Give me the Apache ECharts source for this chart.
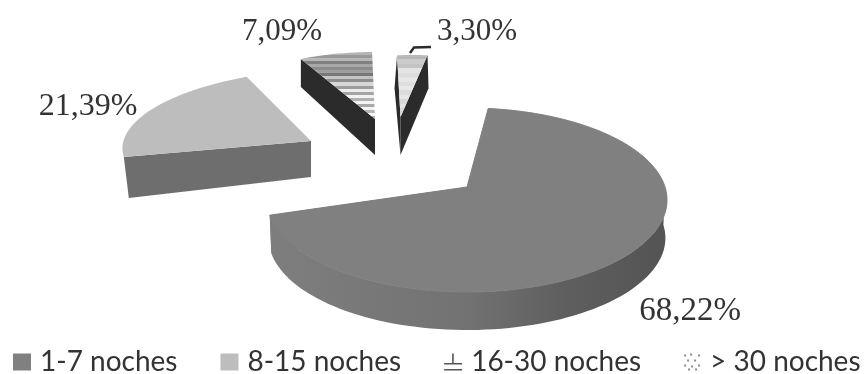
<!DOCTYPE html>
<html>
<head>
<meta charset="utf-8">
<style>html,body{margin:0;padding:0;background:#fff}#main{width:864px;height:374px}</style>
<script src="https://cdn.jsdelivr.net/npm/echarts@6/dist/echarts.min.js"></script>
</head>
<body>
<div id="main"></div>
<script>
// Length of stay, share of stays per class
const categories = ['1-7 noches', '8-15 noches', '16-30 noches', '> 30 noches'];
const shares = [68.22, 21.39, 7.09, 3.30];

// Angle where the first slice begins, clockwise from the back of the disc
const START_ANGLE = 8;

// Horizontal bands of the striped slices, top to bottom
const stripeBands = ['#b4b4b4','#9a9a9a','#b8b8b8','#808080','#a8a8a8','#8c8c8c','#a0a0a0','#787878','#c4c4c4','#8e8e8e','#d8d8d8','#9c9c9c','#ececec','#a4a4a4','#f2f2f2','#b0b0b0','#f4f4f4','#a8a8a8','#f4f4f4','#b4b4b4','#f6f6f6','#b0b0b0'];
const paleBands = ['#b8b8b8','#cccccc','#c4c4c4','#e4e4e4','#dcdcdc','#e6e6e6','#dedede','#e8e8e8','#dcdcdc','#e6e6e6','#d8d8d8','#e4e4e4','#d8d8d8','#e2e2e2'];

function bandFill(bands) {
  const stops = [];
  bands.forEach(function (c, i) {
    stops.push({ offset: i / bands.length, color: c });
    stops.push({ offset: (i + 1) / bands.length, color: c });
  });
  return { type: 'linear', x: 0, y: 0, x2: 0, y2: 1, colorStops: stops };
}

// Projection of each slice on the page: apex of the top face, disc transform and thickness
const views = [
  { perspective: { cx: 467, cy: 187, s: 198, k: 90.2, p: -0.1413 }, depth: 38, shrink: 0.992, turn: -1,
    top: '#808080',
    rim: { type: 'linear', x: 0, y: 0, x2: 1, y2: 0, colorStops: [
      { offset: 0, color: '#7e7e7e' }, { offset: 0.5, color: '#727272' }, { offset: 0.75, color: '#5e5e5e' }, { offset: 1, color: '#545454' }] },
    cut: '#7a7a7a', cuts: [1], label: { x: 690, y: 311, size: 33 } },
  { cx: 311, cy: 141, m: [186, -31, 4.3, 71.2], depthApex: 36, depthRim: 41, shiftRim: [5, 0],
    top: '#bdbdbd', rim: '#6e6e6e', cut: '#6e6e6e', cuts: [0], label: { x: 88, y: 107, size: 32 } },
  { cx: 375, cy: 119, m: [165.7, -8.3, 3.7, 66.9], depthApex: 36, depthRim: 28, shiftRim: [0, 0],
    top: bandFill(stripeBands), rim: '#2b2b2b', cut: '#2b2b2b', cuts: [0], label: { x: 282, y: 32, size: 31 } },
  { cx: 400.5, cy: 117, m: [147.6, -6.55, -2.4, 62], depthApex: 38, depthRim: 33, shiftRim: [-2.5, 1],
    top: bandFill(paleBands), rim: '#2b2b2b', cut: '#2b2b2b', cuts: [0, 1], label: { x: 477, y: 32, size: 31 },
    leader: [[410, 53], [414, 47.5], [431, 47]] }
];

const total = shares.reduce(function (a, b) { return a + b; }, 0);

// Clockwise angle from the back of the disc to unit disc coordinates
function unit(deg) {
  const r = deg * Math.PI / 180;
  return [Math.sin(r), -Math.cos(r)];
}

function project(v, deg, lower, shift) {
  const u = unit(deg);
  if (v.perspective) {
    const q = v.perspective;
    const w = 1 + q.p * u[1];
    const f = lower ? v.shrink : 1;
    return [q.cx + f * q.s * u[0] / w, q.cy + q.k * u[1] / w + (lower ? v.depth : 0)];
  }
  const x = v.cx + v.m[0] * u[0] + v.m[1] * u[1];
  const y = v.cy + v.m[2] * u[0] + v.m[3] * u[1];
  return lower ? [x + (shift || 0), y + v.depthRim] : [x, y];
}

function apexOf(v, lower) {
  const cx = v.perspective ? v.perspective.cx : v.cx;
  const cy = v.perspective ? v.perspective.cy : v.cy;
  const d = v.perspective ? v.depth : v.depthApex;
  return lower ? [cx, cy + d] : [cx, cy];
}

function arc(v, a0, a1, lower) {
  const pts = [];
  const n = Math.max(8, Math.ceil(Math.abs(a1 - a0) / 2));
  for (let i = 0; i <= n; i++) pts.push(project(v, a0 + (a1 - a0) * i / n, lower));
  return pts;
}

function sliceRenderer(index) {
  return function (params, api) {
    const value = api.value(0);
    let before = 0;
    for (let i = 0; i < index; i++) before += shares[i];
    const v = views[index];
    const a0 = START_ANGLE + (v.turn || 0) + before / total * 360;
    const a1 = a0 + value / total * 360;
    const children = [];

    // Radial faces of the slice; index 0 is the clockwise-first edge, 1 the last
    v.cuts.forEach(function (which) {
      const edge = which === 0 ? a0 : a1;
      const shift = v.shiftRim ? v.shiftRim[which] : 0;
      children.push({
        type: 'polygon',
        shape: { points: [apexOf(v, false), project(v, edge, false), project(v, edge, true, shift), apexOf(v, true)] },
        style: { fill: v.cut }
      });
    });

    // Outer wall, only the part that faces the viewer
    if (v.perspective) {
      const from = Math.max(a0, 90);
      const to = Math.min(a1, 270);
      const outer = arc(v, from, to, false).concat(arc(v, from, to, true).reverse());
      children.push({ type: 'polygon', shape: { points: outer }, style: { fill: v.rim } });
    }

    // Top face
    children.push({
      type: 'polygon',
      shape: { points: [apexOf(v, false)].concat(arc(v, a0, a1, false)) },
      style: v.perspective ? { fill: v.top, stroke: v.top, lineWidth: 1 } : { fill: v.top }
    });

    if (v.leader) {
      children.push({
        type: 'polyline',
        shape: { points: v.leader },
        style: { stroke: '#2a2a2a', lineWidth: 2.4, fill: null }
      });
    }

    children.push({
      type: 'text',
      x: v.label.x, y: v.label.y,
      style: {
        text: value.toFixed(2).replace('.', ',') + '%',
        font: v.label.size + 'px "Liberation Serif"',
        fill: '#333333', align: 'center', verticalAlign: 'middle'
      }
    });
    return { type: 'group', children: children };
  };
}

const legendColors = ['#808080', '#bdbdbd', '#555555', '#8c8c8c'];
const legendIcons = [
  'rect',
  'rect',
  'path://M8 0H9.6V9.4H18V11H0V9.4H8Z M0 15.4H18V17H0Z',
  'path://M1 1h2v2h-2z M7 0h2v2h-2z M15 1h2v2h-2z M4 6h2v2h-2z M11 6h2v2h-2z M1 11h2v2h-2z M8 12h2v2h-2z M15 11h2v2h-2z M5 15h2v2h-2z M12 15h2v2h-2z'
];

const chart = echarts.init(document.getElementById('main'), null, { renderer: 'canvas' });
chart.setOption({
  animation: false,
  backgroundColor: '#ffffff',
  legend: {
    left: 13, top: 348, width: 851, padding: 0,
    itemWidth: 18, itemHeight: 17, itemGap: 43,
    textStyle: { fontFamily: 'Lato', fontSize: 28, color: '#333333', padding: [0, 0, 0, 4] },
    data: categories.map(function (name, i) {
      return { name: name, icon: legendIcons[i], itemStyle: { color: legendColors[i] } };
    })
  },
  series: categories.map(function (name, i) {
    return {
      type: 'custom',
      name: name,
      coordinateSystem: 'none',
      renderItem: sliceRenderer(i),
      itemStyle: { color: legendColors[i] },
      data: [[shares[i]]],
      silent: true
    };
  })
});
</script>
</body>
</html>
